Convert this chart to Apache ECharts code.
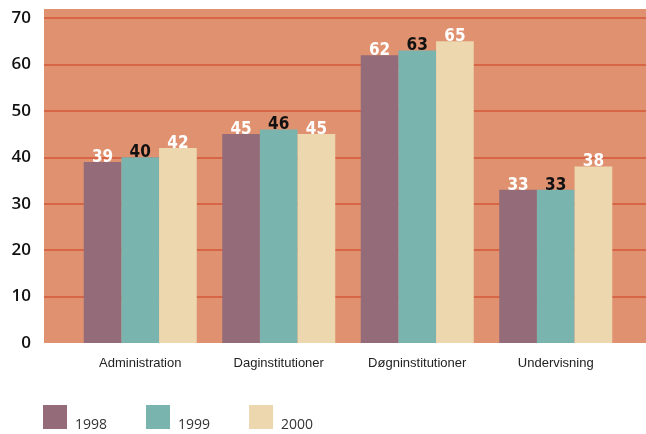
<!DOCTYPE html>
<html><head><meta charset="utf-8">
<script src="https://cdn.jsdelivr.net/npm/echarts@6/dist/echarts.min.js"></script>
<style>html,body{margin:0;padding:0;background:#fff}#c{width:646px;height:434px}</style>
</head><body><div id="c"></div>
<script>
const categories = ['Administration', 'Daginstitutioner', 'Døgninstitutioner', 'Undervisning'];
const years = ['1998', '1999', '2000'];
const v1998 = [39, 45, 62, 33];
const v1999 = [40, 46, 63, 33];
const v2000 = [42, 45, 65, 38];
const yTicks = [0, 10, 20, 30, 40, 50, 60, 70];

const colors = ['#936b79', '#79b5ae', '#edd7ae'];
const labelColors = ['#ffffff', '#111111', '#ffffff'];
const data = [v1998, v1999, v2000];
const yMin = yTicks[0], yMax = yTicks[yTicks.length - 1];
const lineCol = '#d4593a';

const chart = echarts.init(document.getElementById('c'));
chart.setOption({
  animation: false,
  graphic: [{
    type: 'rect', z: -10,
    shape: {x: 44, y: 9, width: 602, height: 334},
    style: {fill: '#df9170'}
  }],
  grid: [
    {left: 44, right: 0, top: 18, bottom: 91},
    {left: 71, right: 21, top: 18, bottom: 91}
  ],
  legend: {
    left: 43, top: 405, padding: 0, itemWidth: 24, itemHeight: 24, itemGap: 39,
    icon: 'rect',
    data: years,
    formatter: '{t|{name}}',
    textStyle: {
      rich: {t: {fontFamily: 'Open Sans', fontSize: 14, color: '#333', padding: [17, 0, 0, 3]}}
    }
  },
  xAxis: [
    {type: 'value', gridIndex: 0, show: false, min: 0, max: 1},
    {
      type: 'category', gridIndex: 1, data: categories,
      axisLine: {show: false}, axisTick: {show: false},
      axisLabel: {fontFamily: 'Liberation Sans', fontSize: 13, color: '#222', margin: 14}
    }
  ],
  yAxis: [
    {
      type: 'value', gridIndex: 0, min: yMin, max: yMax, interval: 10,
      axisLine: {show: false}, axisTick: {show: false},
      axisLabel: {fontFamily: 'Open Sans', fontWeight: 600, fontSize: 17, color: '#111', margin: 13},
      splitLine: {lineStyle: {color: ['rgba(0,0,0,0)', lineCol, lineCol, lineCol, lineCol, lineCol, lineCol, lineCol], width: 1.5}}
    },
    {type: 'value', gridIndex: 1, min: yMin, max: yMax, interval: 10, show: false, splitLine: {show: false}}
  ],
  series: years.map((y, i) => ({
    name: y, type: 'bar', data: data[i], xAxisIndex: 1, yAxisIndex: 1,
    barGap: '0%', barCategoryGap: '18.4%',
    itemStyle: {color: colors[i]},
    label: {
      show: true, position: 'top', distance: -4,
      fontFamily: 'DejaVu Sans Condensed', fontWeight: 'bold', fontSize: 17,
      color: labelColors[i]
    }
  }))
});
</script></body></html>
